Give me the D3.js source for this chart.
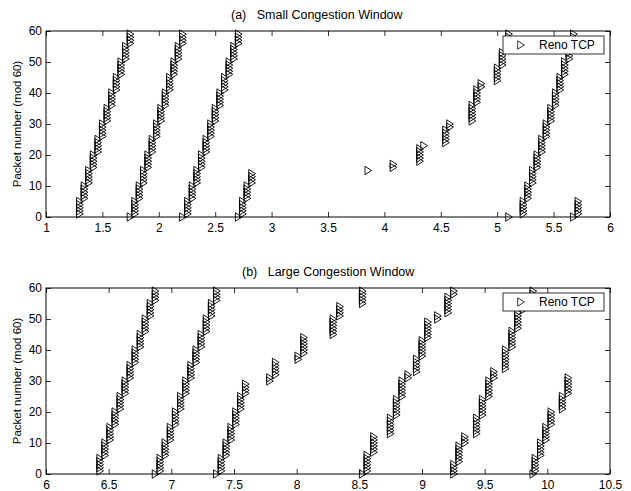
<!DOCTYPE html>
<html>
<head>
<meta charset="utf-8">
<script src="https://cdn.jsdelivr.net/npm/d3@7"></script>
<style>
  body { margin: 0; background: #fff; }
  svg text { font-family: "Liberation Sans", Arial, Helvetica, sans-serif; fill: #000; }
</style>
</head>
<body>
<svg id="chart" width="631" height="491"></svg>
<script>
// Packet traces: each burst is a run of consecutive packets sent back to back.
// Packet numbers are absolute; the y value plotted is the number mod 60.

// (a) Small congestion window
const burstTimeA = [
  1.300, 1.341, 1.381, 1.422, 1.463, 1.503, 1.544, 1.585, 1.626, 1.667, 1.708, 1.749,
  1.790, 1.829, 1.867, 1.906, 1.944, 1.983, 2.021, 2.060, 2.098, 2.137, 2.175, 2.214,
  2.258, 2.299, 2.340, 2.381, 2.422, 2.463, 2.503, 2.544, 2.585, 2.626, 2.667, 2.708,
  2.745, 2.785, 2.827,
  3.857, 4.080, 4.316, 4.352, 4.546, 4.582, 4.780, 4.822, 4.860, 5.004, 5.048, 5.105,
  5.233, 5.274, 5.316, 5.356, 5.397, 5.437, 5.478, 5.519, 5.559, 5.600, 5.640, 5.680, 5.720
];
const burstFirstA = [
  1, 6, 11, 16, 21, 26, 31, 36, 41, 46, 51, 56,
  61, 66, 71, 76, 81, 86, 91, 96, 101, 106, 111, 116,
  121, 126, 131, 136, 141, 146, 151, 156, 161, 166, 171, 176,
  181, 186, 191,
  195, 196, 198, 203, 204, 209, 211, 217, 222, 224, 229, 234,
  241, 246, 251, 256, 261, 266, 271, 276, 281, 286, 291, 296, 301
];
const burstLastA = [
  5, 10, 15, 20, 25, 30, 35, 40, 45, 50, 55, 60,
  65, 70, 75, 80, 85, 90, 95, 100, 105, 110, 115, 120,
  125, 130, 135, 140, 145, 150, 155, 160, 165, 170, 175, 180,
  185, 190, 194,
  195, 197, 202, 203, 208, 210, 216, 221, 223, 228, 233, 240,
  245, 250, 255, 260, 265, 270, 275, 280, 285, 290, 295, 300, 305
];

// (b) Large congestion window
const burstTimeB = [
  6.432, 6.472, 6.512, 6.553, 6.593, 6.633, 6.673, 6.713, 6.754, 6.794, 6.834, 6.874,
  6.912, 6.953, 6.994, 7.035, 7.076, 7.117, 7.158, 7.199, 7.240, 7.281, 7.322, 7.363,
  7.400, 7.439, 7.478, 7.516, 7.555, 7.594,
  7.787, 7.833, 8.013, 8.059, 8.293, 8.346, 8.527, 8.564, 8.617,
  8.750, 8.798, 8.842, 8.890, 8.958, 9.003, 9.048, 9.127, 9.209, 9.255, 9.297, 9.343,
  9.437, 9.484, 9.535, 9.575, 9.668, 9.720, 9.766, 9.812, 9.888,
  9.905, 9.948, 9.990, 10.032, 10.122, 10.168
];
const burstFirstB = [
  1, 6, 11, 16, 21, 26, 31, 36, 41, 46, 51, 56,
  61, 66, 71, 76, 81, 86, 91, 96, 101, 106, 111, 116,
  121, 126, 131, 136, 141, 146,
  150, 152, 157, 159, 165, 171, 175, 181, 187,
  193, 199, 205, 211, 213, 218, 224, 230, 232, 238, 244, 250,
  253, 259, 265, 271, 274, 281, 287, 293, 298,
  301, 306, 311, 316, 321, 326
];
const burstLastB = [
  5, 10, 15, 20, 25, 30, 35, 40, 45, 50, 55, 60,
  65, 70, 75, 80, 85, 90, 95, 100, 105, 110, 115, 120,
  125, 130, 135, 140, 145, 149,
  151, 156, 158, 164, 170, 174, 180, 186, 192,
  198, 204, 210, 212, 217, 223, 229, 231, 237, 243, 249, 252,
  258, 264, 270, 273, 280, 286, 292, 297, 300,
  305, 310, 315, 320, 325, 331
];

const xTicksA = [1, 1.5, 2, 2.5, 3, 3.5, 4, 4.5, 5, 5.5, 6];
const xTicksB = [6, 6.5, 7, 7.5, 8, 8.5, 9, 9.5, 10, 10.5];
const yTicks = [0, 10, 20, 30, 40, 50, 60];
const seriesName = "Reno TCP";
const yLabel = "Packet number (mod 60)";
const titleA = "(a)   Small Congestion Window";
const titleB = "(b)   Large Congestion Window";

function expand(times, firsts, lasts) {
  const pts = [];
  times.forEach((t, i) => {
    for (let p = firsts[i]; p <= lasts[i]; p++) pts.push({ t: t, seq: p % 60 });
  });
  return pts;
}

const svg = d3.select("#chart");
const left = 46, right = 610;
const tri = "M-3.3,-4.2L3.4,0L-3.3,4.2Z";

function drawPanel(cfg) {
  const x = d3.scaleLinear().domain(cfg.xDomain).range([left, right]);
  const y = d3.scaleLinear().domain([0, 60]).range([cfg.bottom, cfg.top]);
  const g = svg.append("g");

  // axes on all four sides, ticks pointing inward, labels on bottom and left only
  const xb = g.append("g").attr("transform", `translate(0,${cfg.bottom})`)
    .call(d3.axisBottom(x).tickValues(cfg.xTicks).tickSizeInner(-5).tickSizeOuter(0)
      .tickPadding(6).tickFormat(d => String(d)));
  const xt = g.append("g").attr("transform", `translate(0,${cfg.top})`)
    .call(d3.axisTop(x).tickValues(cfg.xTicks).tickSizeInner(-5).tickSizeOuter(0).tickFormat(""));
  const yl = g.append("g").attr("transform", `translate(${left},0)`)
    .call(d3.axisLeft(y).tickValues(yTicks).tickSizeInner(-5).tickSizeOuter(0).tickPadding(4));
  const yr = g.append("g").attr("transform", `translate(${right},0)`)
    .call(d3.axisRight(y).tickValues(yTicks).tickSizeInner(-5).tickSizeOuter(0).tickFormat(""));
  [xb, xt, yl, yr].forEach(a => {
    a.select(".domain").remove();
    a.selectAll("line").attr("stroke", "#000").attr("stroke-width", 0.8);
    a.selectAll("text").attr("font-size", 12).attr("fill", "#000")
      .style("font-family", '"Liberation Sans", Arial, sans-serif');
  });

  // packet markers: open right-pointing triangles
  g.append("g").selectAll("path")
    .data(expand(cfg.times, cfg.firsts, cfg.lasts))
    .join("path")
    .attr("d", tri)
    .attr("transform", d => `translate(${x(d.t)},${y(d.seq)})`)
    .attr("fill", "none")
    .attr("stroke", "#000")
    .attr("stroke-width", 0.9);

  // plot box
  g.append("rect")
    .attr("x", left).attr("y", cfg.top)
    .attr("width", right - left).attr("height", cfg.bottom - cfg.top)
    .attr("fill", "none").attr("stroke", "#000").attr("stroke-width", 1);

  // title
  g.append("text")
    .attr("x", cfg.titleX).attr("y", cfg.top - 12)
    .attr("font-size", 12.5)
    .style("white-space", "pre")
    .text(cfg.title);

  // y label
  g.append("text")
    .attr("transform", `translate(21,${(cfg.top + cfg.bottom) / 2}) rotate(-90)`)
    .attr("text-anchor", "middle")
    .attr("font-size", 11.5)
    .text(yLabel);

  // legend
  const lg = g.append("g").attr("transform", `translate(503,${cfg.top + 5})`);
  lg.append("rect").attr("width", 101).attr("height", 18)
    .attr("fill", "#fff").attr("stroke", "#000").attr("stroke-width", 0.8);
  lg.append("path").attr("d", tri).attr("transform", "translate(18,9)")
    .attr("fill", "none").attr("stroke", "#000").attr("stroke-width", 0.8);
  lg.append("text").attr("x", 36).attr("y", 13.3).attr("font-size", 12).text(seriesName);
}

drawPanel({ xDomain: [1, 6], xTicks: xTicksA, top: 31, bottom: 217, title: titleA, titleX: 231,
  times: burstTimeA, firsts: burstFirstA, lasts: burstLastA });
drawPanel({ xDomain: [6, 10.5], xTicks: xTicksB, top: 288, bottom: 474, title: titleB, titleX: 242,
  times: burstTimeB, firsts: burstFirstB, lasts: burstLastB });
</script>
</body>
</html>
